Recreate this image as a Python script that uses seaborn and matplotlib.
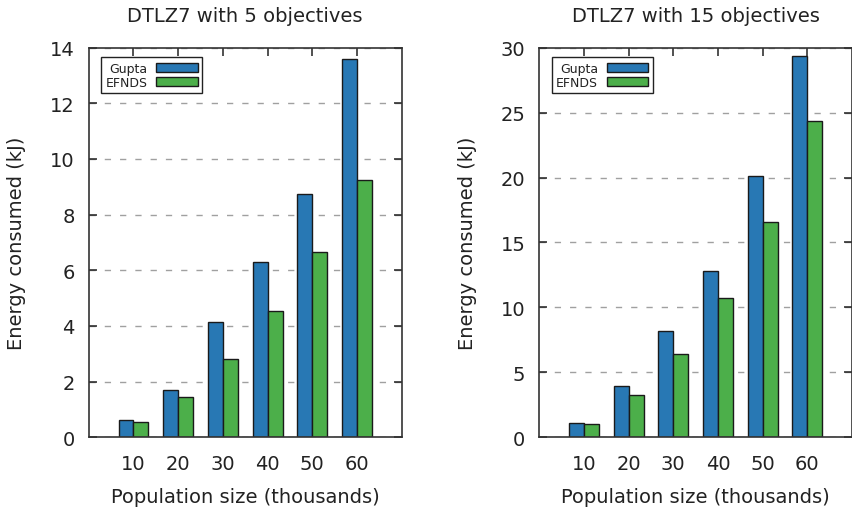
import matplotlib
matplotlib.use("Agg")
import matplotlib.pyplot as plt
import pandas as pd
import seaborn as sns

# Energy consumed (kJ) per population size, for each method
population = [10, 20, 30, 40, 50, 60]
methods = ["Gupta", "EFNDS"]

gupta_5 = [0.62, 1.71, 4.14, 6.30, 8.73, 13.60]
efnds_5 = [0.54, 1.43, 2.83, 4.54, 6.64, 9.26]

gupta_15 = [1.10, 3.93, 8.19, 12.84, 20.13, 29.38]
efnds_15 = [1.02, 3.26, 6.42, 10.73, 16.59, 24.35]

panels = [
    ("DTLZ7 with 5 objectives", gupta_5, efnds_5, 14, [0, 2, 4, 6, 8, 10, 12, 14]),
    ("DTLZ7 with 15 objectives", gupta_15, efnds_15, 30, [0, 5, 10, 15, 20, 25, 30]),
]

colors = ["#2878b4", "#4caf4a"]
ink = "#222222"
fs = 14

sns.set_style("white")
plt.rcParams["font.family"] = ["DejaVu Sans"]
plt.rcParams["text.color"] = ink
plt.rcParams["axes.labelcolor"] = ink
plt.rcParams["xtick.color"] = ink
plt.rcParams["ytick.color"] = ink

fig = plt.figure(figsize=(8.53, 5.10), dpi=100)
rects = [
    [0.104, 0.1406, 0.367, 0.764],
    [0.6322, 0.1406, 0.3666, 0.764],
]

for rect, (title, g_vals, e_vals, ymax, yticks) in zip(rects, panels):
    ax = fig.add_axes(rect)
    df = pd.DataFrame({
        "population": population * 2,
        "energy": g_vals + e_vals,
        "method": [methods[0]] * len(population) + [methods[1]] * len(population),
    })
    sns.barplot(
        data=df, x="population", y="energy", hue="method",
        hue_order=methods, palette=colors, width=0.667,
        edgecolor="#1a1a1a", linewidth=1.0, saturation=1.0,
        errorbar=None, ax=ax, legend=True,
    )

    ax.set_xlim(-1, 6)
    ax.set_ylim(0, ymax)
    ax.set_yticks(yticks)

    ax.set_axisbelow(True)
    ax.yaxis.grid(True, color="#a0a0a0", linewidth=1.0, linestyle=(0, (4.5, 6.5)))
    ax.xaxis.grid(False)

    for s in ax.spines.values():
        s.set_visible(True)
        s.set_color("#333333")
        s.set_linewidth(1.2)

    ax.tick_params(axis="y", which="both", direction="in", length=6, width=1.1,
                   left=True, right=True, labelsize=fs, pad=10)
    ax.tick_params(axis="x", which="both", direction="in", length=6, width=1.1,
                   top=True, bottom=False, labelsize=fs, pad=12)

    ax.set_title(title, fontsize=fs, pad=19)
    ax.set_xlabel("Population size (thousands)", fontsize=fs, labelpad=10)
    ax.set_ylabel("Energy consumed (kJ)", fontsize=fs, labelpad=17)

    old = ax.get_legend()
    handles = old.legend_handles
    labels = [t.get_text() for t in old.get_texts()]
    old.remove()
    leg = ax.legend(
        handles, labels, loc="upper left", bbox_to_anchor=(0.04, 0.975),
        borderaxespad=0, markerfirst=False, fontsize=9, frameon=True,
        fancybox=False, shadow=False, handlelength=3.3, handleheight=0.7,
        handletextpad=0.7, labelspacing=0.1, borderpad=0.35,
    )
    frame = leg.get_frame()
    frame.set_edgecolor("#222222")
    frame.set_linewidth(1.0)
    frame.set_alpha(1.0)
    for h in leg.legend_handles:
        h.set_edgecolor("#1a1a1a")
        h.set_linewidth(1.0)

fig.savefig("out.png", dpi=100)
